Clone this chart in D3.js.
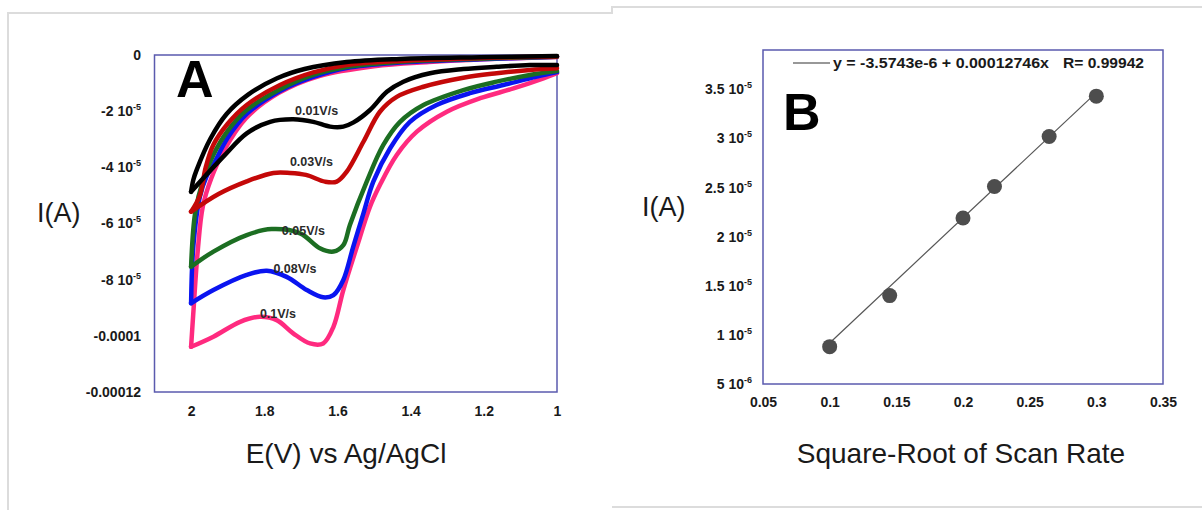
<!DOCTYPE html>
<html><head><meta charset="utf-8">
<script src="https://cdn.jsdelivr.net/npm/d3@7"></script>
<style>body{margin:0;background:#fff}svg{display:block}</style>
</head><body>
<svg id="c" width="1202" height="510"></svg>
<script>
// ---------- Panel A data: cyclic voltammograms (E in V, I in A) ----------
const scanRates = ["0.01V/s", "0.03V/s", "0.05V/s", "0.08V/s", "0.1V/s"];
const fwd001 = [[1.0,-0.36e-5],[1.074,-0.36e-5],[1.165,-0.42e-5],[1.256,-0.50e-5],[1.347,-0.65e-5],[1.420,-0.95e-5],[1.465,-1.31e-5],[1.511,-1.96e-5],[1.556,-2.40e-5],[1.584,-2.55e-5],[1.620,-2.55e-5],[1.666,-2.38e-5],[1.721,-2.29e-5],[1.784,-2.38e-5],[1.848,-2.79e-5],[1.912,-3.62e-5],[2.0,-4.87e-5]];
const rev001 = [[2.0,-4.87e-5],[1.994,-4.45e-5],[1.985,-4.10e-5],[1.948,-3.0e-5],[1.903,-2.1e-5],[1.845,-1.42e-5],[1.765,-0.83e-5],[1.69,-0.50e-5],[1.575,-0.25e-5],[1.429,-0.14e-5],[1.21,-0.08e-5],[1.0,-0.04e-5]];
const fwd003 = [[1.0,-0.47e-5],[1.074,-0.53e-5],[1.165,-0.65e-5],[1.256,-0.81e-5],[1.365,-1.13e-5],[1.438,-1.49e-5],[1.484,-2.02e-5],[1.529,-3.09e-5],[1.575,-4.16e-5],[1.602,-4.51e-5],[1.634,-4.51e-5],[1.686,-4.27e-5],[1.73,-4.20e-5],[1.775,-4.20e-5],[1.848,-4.50e-5],[1.925,-4.95e-5],[2.0,-5.58e-5]];
const rev003 = [[2.0,-5.58e-5],[1.976,-5.0e-5],[1.96,-4.0e-5],[1.939,-3.2e-5],[1.90,-2.45e-5],[1.848,-1.78e-5],[1.757,-1.07e-5],[1.666,-0.62e-5],[1.575,-0.36e-5],[1.429,-0.21e-5],[1.21,-0.11e-5],[1.0,-0.05e-5]];
const fwd005 = [[1.0,-0.57e-5],[1.074,-0.71e-5],[1.165,-0.95e-5],[1.256,-1.25e-5],[1.365,-1.78e-5],[1.429,-2.38e-5],[1.475,-3.21e-5],[1.520,-4.51e-5],[1.566,-6.05e-5],[1.584,-6.77e-5],[1.611,-7.0e-5],[1.648,-6.88e-5],[1.702,-6.35e-5],[1.78,-6.20e-5],[1.848,-6.41e-5],[1.939,-7.0e-5],[2.0,-7.54e-5]];
const rev005 = [[2.0,-7.54e-5],[1.989,-5.64e-5],[1.967,-4.45e-5],[1.939,-3.55e-5],[1.90,-2.7e-5],[1.848,-1.96e-5],[1.757,-1.22e-5],[1.666,-0.71e-5],[1.575,-0.43e-5],[1.429,-0.24e-5],[1.21,-0.13e-5],[1.0,-0.06e-5]];
const fwd008 = [[1.0,-0.61e-5],[1.055,-0.77e-5],[1.147,-1.07e-5],[1.238,-1.36e-5],[1.329,-1.78e-5],[1.402,-2.38e-5],[1.456,-3.32e-5],[1.502,-4.51e-5],[1.529,-5.64e-5],[1.557,-6.83e-5],[1.584,-8.01e-5],[1.611,-8.55e-5],[1.639,-8.63e-5],[1.684,-8.37e-5],[1.739,-7.90e-5],[1.793,-7.68e-5],[1.848,-7.83e-5],[1.939,-8.37e-5],[2.0,-8.84e-5]];
const rev008 = [[2.0,-8.84e-5],[1.994,-6.83e-5],[1.976,-5.05e-5],[1.957,-4.3e-5],[1.939,-3.9e-5],[1.90,-2.95e-5],[1.848,-2.1e-5],[1.757,-1.28e-5],[1.666,-0.78e-5],[1.575,-0.46e-5],[1.429,-0.27e-5],[1.21,-0.15e-5],[1.0,-0.06e-5]];
const fwd01 = [[1.0,-0.65e-5],[1.037,-0.83e-5],[1.119,-1.19e-5],[1.21,-1.54e-5],[1.301,-2.02e-5],[1.383,-2.73e-5],[1.438,-3.56e-5],[1.484,-4.63e-5],[1.511,-5.40e-5],[1.547,-6.83e-5],[1.584,-8.37e-5],[1.611,-9.68e-5],[1.639,-10.27e-5],[1.675,-10.27e-5],[1.721,-9.91e-5],[1.766,-9.44e-5],[1.812,-9.32e-5],[1.866,-9.50e-5],[1.939,-10.03e-5],[2.0,-10.39e-5]];
const rev01 = [[2.0,-10.39e-5],[1.994,-9.2e-5],[1.982,-7.0e-5],[1.968,-5.4e-5],[1.945,-4.4e-5],[1.91,-3.4e-5],[1.85,-2.25e-5],[1.76,-1.35e-5],[1.65,-0.75e-5],[1.5,-0.4e-5],[1.35,-0.25e-5],[1.2,-0.15e-5],[1.0,-0.07e-5]];

const xTicksA = [2, 1.8, 1.6, 1.4, 1.2, 1];
const xTickLabelsA = ["2", "1.8", "1.6", "1.4", "1.2", "1"];
const yTicksA = [0, -2e-5, -4e-5, -6e-5, -8e-5, -1e-4, -1.2e-4];
const yTickBaseA = ["0", "-2 10", "-4 10", "-6 10", "-8 10", "-0.0001", "-0.00012"];
const yTickExpA = ["", "-5", "-5", "-5", "-5", "", ""];

// ---------- Panel B data ----------
const sqrtScanRate = [0.1, 0.145, 0.2, 0.2236, 0.2646, 0.3];
const peakCurrent = [0.88e-5, 1.40e-5, 2.19e-5, 2.51e-5, 3.02e-5, 3.43e-5];
const fitIntercept = -3.5743e-6;
const fitSlope = 0.00012746;
const fitR = 0.99942;
const xTicksB = [0.05, 0.1, 0.15, 0.2, 0.25, 0.3, 0.35];
const xTickLabelsB = ["0.05", "0.1", "0.15", "0.2", "0.25", "0.3", "0.35"];
const yTicksB = [5e-6, 1e-5, 1.5e-5, 2e-5, 2.5e-5, 3e-5, 3.5e-5];
const yTickBaseB = ["5 10", "1 10", "1.5 10", "2 10", "2.5 10", "3 10", "3.5 10"];
const yTickExpB = ["-6", "-5", "-5", "-5", "-5", "-5", "-5"];

// ---------- drawing ----------
const FONT = '"Liberation Sans", Arial, Helvetica, sans-serif';
const TXT = '#1a1a1a';
const svg = d3.select('#c');

// panel frames (light gray)
const frame = svg.append('g').attr('stroke', '#dcdcdc').attr('stroke-width', 2).attr('fill', 'none');
frame.append('path').attr('d', 'M8,510 L8,13 L612,13 L612,7 L1202,7');
frame.append('path').attr('d', 'M612,507 L1202,507');

function styleAxis(g, bases, exps) {
  g.select('.domain').remove();
  g.selectAll('.tick line').remove();
  g.selectAll('.tick text')
    .attr('font-family', FONT).attr('font-size', 14).attr('font-weight', 'bold').attr('fill', TXT)
    .each(function(d, i) {
      const t = d3.select(this);
      t.text(null);
      t.append('tspan').text(bases[i]);
      if (exps && exps[i]) t.append('tspan').attr('font-size', 9).attr('dy', -6).text(exps[i]);
    });
}

// ===== Panel A =====
const xA = d3.scaleLinear().domain([2.1, 1.0]).range([154.5, 557]);
const yA = d3.scaleLinear().domain([0, -1.2e-4]).range([55, 392]);

svg.append('g').attr('transform', 'translate(0,392)')
  .call(d3.axisBottom(xA).tickValues(xTicksA).tickSize(0).tickPadding(14))
  .call(g => styleAxis(g, xTickLabelsA, null));
svg.append('g').attr('transform', 'translate(154.5,0)')
  .call(d3.axisLeft(yA).tickValues(yTicksA).tickSize(0).tickPadding(13.5))
  .call(g => styleAxis(g, yTickBaseA, yTickExpA));

svg.append('rect').attr('x', xA(2.1)).attr('y', yA(0)).attr('width', xA(1.0) - xA(2.1)).attr('height', yA(-1.2e-4) - yA(0))
  .attr('fill', 'none').attr('stroke', '#5a5aae').attr('stroke-width', 1.5);

const lineA = d3.line().x(d => xA(d[0])).y(d => yA(d[1])).curve(d3.curveCatmullRom.alpha(0.5));
const cvs = [
  {f: fwd01, r: rev01, c: '#ff2a7f', lab: scanRates[4], at: [1.812, -9.37e-5]},
  {f: fwd008, r: rev008, c: '#0a14f0', lab: scanRates[3], at: [1.775, -7.76e-5]},
  {f: fwd005, r: rev005, c: '#1c6e22', lab: scanRates[2], at: [1.752, -6.41e-5]},
  {f: fwd003, r: rev003, c: '#c40808', lab: scanRates[1], at: [1.730, -3.97e-5]},
  {f: fwd001, r: rev001, c: '#000000', lab: scanRates[0], at: [1.716, -2.14e-5]}
];
const gA = svg.append('g');
cvs.forEach(cv => {
  [cv.f, cv.r].forEach(br => {
    gA.append('path').attr('d', lineA(br)).attr('fill', 'none').attr('stroke', cv.c)
      .attr('stroke-width', 4.5).attr('stroke-linecap', 'round').attr('stroke-linejoin', 'round');
  });
});
cvs.forEach(cv => {
  svg.append('text').attr('x', xA(cv.at[0])).attr('y', yA(cv.at[1]))
    .attr('font-family', FONT).attr('font-size', 12.5).attr('font-weight', 'bold').attr('fill', '#2a2a2a')
    .text(cv.lab);
});

svg.append('text').attr('x', 176).attr('y', 97).attr('font-family', FONT).attr('font-size', 52).attr('font-weight', 'bold').attr('fill', '#000').text('A');
svg.append('text').attr('x', 37).attr('y', 222).attr('font-family', FONT).attr('font-size', 27).attr('fill', TXT).text('I(A)');
svg.append('text').attr('x', 346).attr('y', 463).attr('text-anchor', 'middle').attr('font-family', FONT).attr('font-size', 28).attr('fill', TXT).text('E(V) vs Ag/AgCl');

// ===== Panel B =====
const xB = d3.scaleLinear().domain([0.05, 0.35]).range([763, 1163]);
const yB = d3.scaleLinear().domain([5e-6, 3.9e-5]).range([384, 50]);

svg.append('g').attr('transform', 'translate(0,384)')
  .call(d3.axisBottom(xB).tickValues(xTicksB).tickSize(0).tickPadding(13.5))
  .call(g => styleAxis(g, xTickLabelsB, null));
svg.append('g').attr('transform', 'translate(763,0)')
  .call(d3.axisLeft(yB).tickValues(yTicksB).tickSize(0).tickPadding(11))
  .call(g => styleAxis(g, yTickBaseB, yTickExpB));

svg.append('rect').attr('x', xB(0.05)).attr('y', yB(3.9e-5)).attr('width', xB(0.35) - xB(0.05)).attr('height', yB(5e-6) - yB(3.9e-5))
  .attr('fill', 'none').attr('stroke', '#5a5aae').attr('stroke-width', 1.5);

const fitX = [d3.min(sqrtScanRate), d3.max(sqrtScanRate)];
svg.append('line')
  .attr('x1', xB(fitX[0])).attr('y1', yB(fitIntercept + fitSlope * fitX[0]))
  .attr('x2', xB(fitX[1])).attr('y2', yB(fitIntercept + fitSlope * fitX[1]))
  .attr('stroke', '#555').attr('stroke-width', 1.2);

svg.append('g').selectAll('circle').data(sqrtScanRate.map((x, i) => [x, peakCurrent[i]])).join('circle')
  .attr('cx', d => xB(d[0])).attr('cy', d => yB(d[1])).attr('r', 7.5).attr('fill', '#4d4d4d');

// legend
svg.append('line').attr('x1', 793).attr('x2', 830).attr('y1', 63).attr('y2', 63).attr('stroke', '#333').attr('stroke-width', 1.2);
svg.append('text').attr('x', 833).attr('y', 68).attr('font-family', FONT).attr('font-size', 14).attr('font-weight', 'bold').attr('fill', TXT)
  .attr('textLength', 216).attr('lengthAdjust', 'spacingAndGlyphs')
  .text('y = ' + fitIntercept.toExponential(4).replace('e-', 'e-') + ' + ' + fitSlope + 'x');
svg.append('text').attr('x', 1063).attr('y', 68).attr('font-family', FONT).attr('font-size', 14).attr('font-weight', 'bold').attr('fill', TXT)
  .attr('textLength', 81).attr('lengthAdjust', 'spacingAndGlyphs')
  .text('R= ' + fitR);

svg.append('text').attr('x', 783).attr('y', 130).attr('font-family', FONT).attr('font-size', 52).attr('font-weight', 'bold').attr('fill', '#000').text('B');
svg.append('text').attr('x', 642).attr('y', 216).attr('font-family', FONT).attr('font-size', 27).attr('fill', TXT).text('I(A)');
svg.append('text').attr('x', 961).attr('y', 463).attr('text-anchor', 'middle').attr('font-family', FONT).attr('font-size', 28).attr('fill', TXT).text('Square-Root of Scan Rate');
</script>
</body></html>
